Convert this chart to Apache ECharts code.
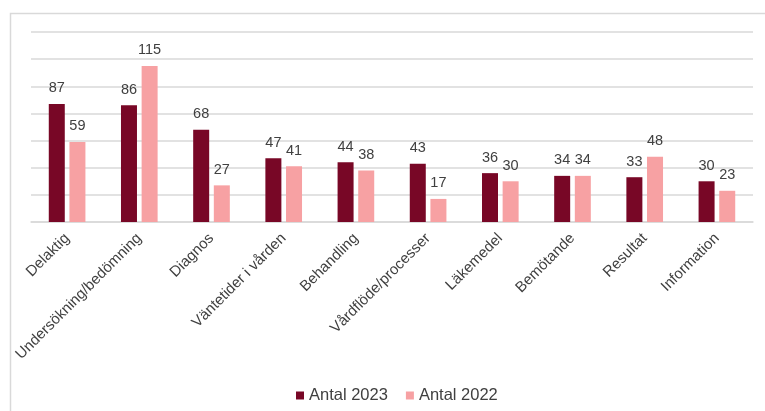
<!DOCTYPE html>
<html>
<head>
<meta charset="utf-8">
<script src="https://cdn.jsdelivr.net/npm/echarts@6/dist/echarts.min.js"></script>
<style>
  html, body { margin: 0; padding: 0; background: #fff; }
  #chart { width: 765px; height: 411px; }
</style>
</head>
<body>
<div id="chart"></div>
<script>
// Categories of feedback and counts per year
const categories = [
  'Delaktig', 'Undersökning/bedömning', 'Diagnos', 'Väntetider i vården',
  'Behandling', 'Vårdflöde/processer', 'Läkemedel', 'Bemötande',
  'Resultat', 'Information'
];
const antal2023 = [87, 86, 68, 47, 44, 43, 36, 34, 33, 30];
const antal2022 = [59, 115, 27, 41, 38, 17, 30, 34, 48, 23];
const seriesNames = ['Antal 2023', 'Antal 2022'];

const FONT = '"Liberation Sans", Arial, sans-serif';
const TEXT = '#404040';

const chart = echarts.init(document.getElementById('chart'), null, { renderer: 'canvas' });

const labelCfg = {
  show: true,
  position: 'top',
  distance: 8,
  color: TEXT,
  fontFamily: FONT,
  fontSize: 14.5
};

chart.setOption({
  animation: false,
  backgroundColor: '#fff',
  graphic: [{
    type: 'rect',
    left: 8, top: 11,
    shape: { width: 800, height: 500 },
    style: { fill: 'none', stroke: '#d9d9d9', lineWidth: 1.5 },
    silent: true,
    z: -1
  }],
  grid: { left: 31, right: 12, top: 32, bottom: 189, containLabel: false },
  legend: {
    left: 291, top: 382,
    itemWidth: 8, itemHeight: 8, itemGap: 18,
    icon: 'rect',
    textStyle: { color: TEXT, fontFamily: FONT, fontSize: 16.5 },
    data: seriesNames
  },
  xAxis: {
    type: 'category',
    data: categories,
    axisLine: { show: true, lineStyle: { color: '#d9d9d9', width: 1.5 } },
    axisTick: { show: false },
    axisLabel: {
      rotate: 45, interval: 0, margin: 14,
      color: TEXT, fontFamily: FONT, fontSize: 15
    }
  },
  yAxis: {
    type: 'value',
    min: 0, max: 140, interval: 20,
    axisLabel: { show: false },
    axisLine: { show: false },
    axisTick: { show: false },
    splitLine: { lineStyle: { color: '#d9d9d9', width: 1.5 } }
  },
  series: [
    {
      name: seriesNames[0], type: 'bar', data: antal2023,
      barWidth: 16, barGap: '29%',
      itemStyle: { color: '#780726' },
      label: labelCfg
    },
    {
      name: seriesNames[1], type: 'bar', data: antal2022,
      barWidth: 16,
      itemStyle: { color: '#f7a1a3' },
      label: labelCfg
    }
  ]
});
</script>
</body>
</html>
